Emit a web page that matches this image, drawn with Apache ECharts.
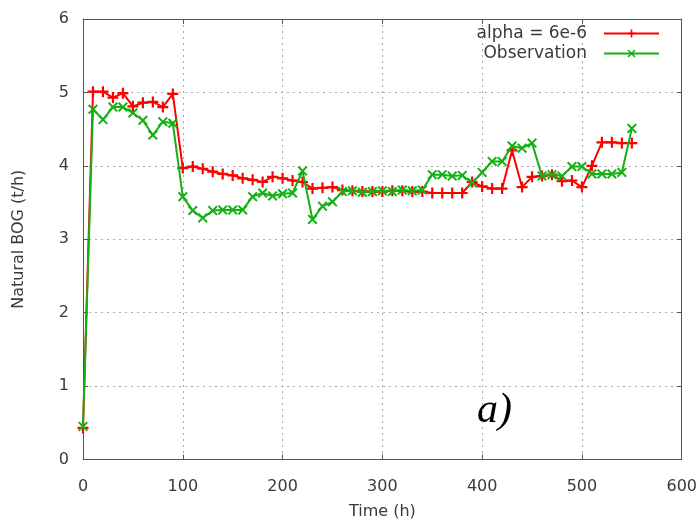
<!DOCTYPE html>
<html>
<head>
<meta charset="utf-8">
<script src="https://cdn.jsdelivr.net/npm/echarts@6/dist/echarts.min.js"></script>
<style>html,body{margin:0;padding:0;background:#fff}#c{width:700px;height:526px}</style>
</head>
<body>
<div id="c"></div>
<script>
const timeH = [0,10,20,30,40,50,60,70,80,90,100,110,120,130,140,150,160,170,180,190,200,210,220,230,240,250,260,270,280,290,300,310,320,330,340,350,360,370,380,390,400,410,420,430,440,450,460,470,480,490,500,510,520,530,540,550];
const alphaModel = [0.43,5.01,5.01,4.93,4.99,4.81,4.86,4.87,4.80,4.98,3.97,3.99,3.96,3.92,3.89,3.87,3.83,3.81,3.78,3.85,3.83,3.80,3.78,3.69,3.70,3.71,3.67,3.66,3.65,3.65,3.65,3.66,3.66,3.65,3.65,3.63,3.63,3.63,3.63,3.78,3.72,3.69,3.69,4.21,3.71,3.85,3.86,3.88,3.79,3.80,3.71,4.00,4.32,4.32,4.31,4.31];
const observation = [0.45,4.77,4.63,4.80,4.80,4.72,4.62,4.42,4.60,4.58,3.58,3.39,3.29,3.39,3.40,3.40,3.40,3.58,3.63,3.59,3.62,3.63,3.93,3.27,3.45,3.51,3.65,3.66,3.64,3.65,3.66,3.65,3.67,3.66,3.67,3.88,3.88,3.86,3.87,3.77,3.91,4.06,4.06,4.27,4.24,4.31,3.86,3.88,3.86,3.99,3.99,3.89,3.89,3.89,3.91,4.51];
const seriesNames = ['alpha = 6e-6', 'Observation'];
const xTitle = 'Time (h)';
const yTitle = 'Natural BOG (t/h)';
const panelLabel = 'a)';

const PLUS = 'path://M4,0H6V4H10V6H6V10H4V6H0V4H4Z';
const CROSS = 'path://M0,1.4L1.4,0L5,3.6L8.6,0L10,1.4L6.4,5L10,8.6L8.6,10L5,6.4L1.4,10L0,8.6L3.6,5Z';
const FONT = 'DejaVu Sans';
const TXT = '#3a3a3a';
const AX = '#555';

const pairs = (ys) => timeH.map((t, i) => [t, ys[i]]);

const chart = echarts.init(document.getElementById('c'), null, {renderer: 'canvas'});
chart.setOption({
  animation: false,
  backgroundColor: '#fff',
  grid: {left: 83, right: 18, top: 19, bottom: 66.5, containLabel: false},
  xAxis: [{
    type: 'value', min: 0, max: 600, interval: 100, position: 'bottom',
    name: xTitle, nameLocation: 'middle', nameGap: 44,
    nameTextStyle: {fontFamily: FONT, fontSize: 16, color: TXT},
    axisLine: {show: true, onZero: false, lineStyle: {color: AX, width: 1}},
    axisTick: {show: true, inside: true, length: 5, lineStyle: {color: AX}},
    axisLabel: {fontFamily: FONT, fontSize: 16, color: TXT, margin: 19},
    splitLine: {show: true, lineStyle: {color: '#aaa', type: [2, 4], width: 1}}
  }, {
    type: 'value', min: 0, max: 600, interval: 100, position: 'top',
    axisLine: {show: true, onZero: false, lineStyle: {color: AX, width: 1}},
    axisTick: {show: true, inside: true, length: 5, lineStyle: {color: AX}},
    axisLabel: {show: false}, splitLine: {show: false}
  }],
  yAxis: [{
    type: 'value', min: 0, max: 6, interval: 1, position: 'left',
    name: yTitle, nameLocation: 'middle', nameGap: 56, nameRotate: 90,
    nameTextStyle: {fontFamily: FONT, fontSize: 16, color: TXT},
    axisLine: {show: true, onZero: false, lineStyle: {color: AX, width: 1}},
    axisTick: {show: true, inside: true, length: 5, lineStyle: {color: AX}},
    axisLabel: {fontFamily: FONT, fontSize: 16, color: TXT, margin: 14},
    splitLine: {show: true, lineStyle: {color: '#aaa', type: [2, 4], width: 1}}
  }, {
    type: 'value', min: 0, max: 6, interval: 1, position: 'right',
    axisLine: {show: true, onZero: false, lineStyle: {color: AX, width: 1}},
    axisTick: {show: true, inside: true, length: 5, lineStyle: {color: AX}},
    axisLabel: {show: false}, splitLine: {show: false}
  }],
  legend: {
    orient: 'vertical', right: 35, top: 20, align: 'right', itemGap: 3,
    itemWidth: 55, itemHeight: 10,
    textStyle: {fontFamily: FONT, fontSize: 17, color: TXT, padding: [0, 12, 0, 0]},
    data: seriesNames
  },
  series: [{
    name: seriesNames[0], type: 'line', data: pairs(alphaModel),
    symbol: PLUS, symbolSize: 11, showAllSymbol: true,
    lineStyle: {color: '#ff0000', width: 2},
    itemStyle: {color: '#ff0000'}, z: 2
  }, {
    name: seriesNames[1], type: 'line', data: pairs(observation),
    symbol: CROSS, symbolSize: 10, showAllSymbol: true,
    lineStyle: {color: '#14b014', width: 2},
    itemStyle: {color: '#14b014'}, z: 3
  }],
  graphic: [{
    type: 'text', left: 477, top: 390,
    style: {text: panelLabel, fontFamily: 'Liberation Serif', fontStyle: 'italic', fontSize: 42, fill: '#000'}
  }]
});
</script>
</body>
</html>
